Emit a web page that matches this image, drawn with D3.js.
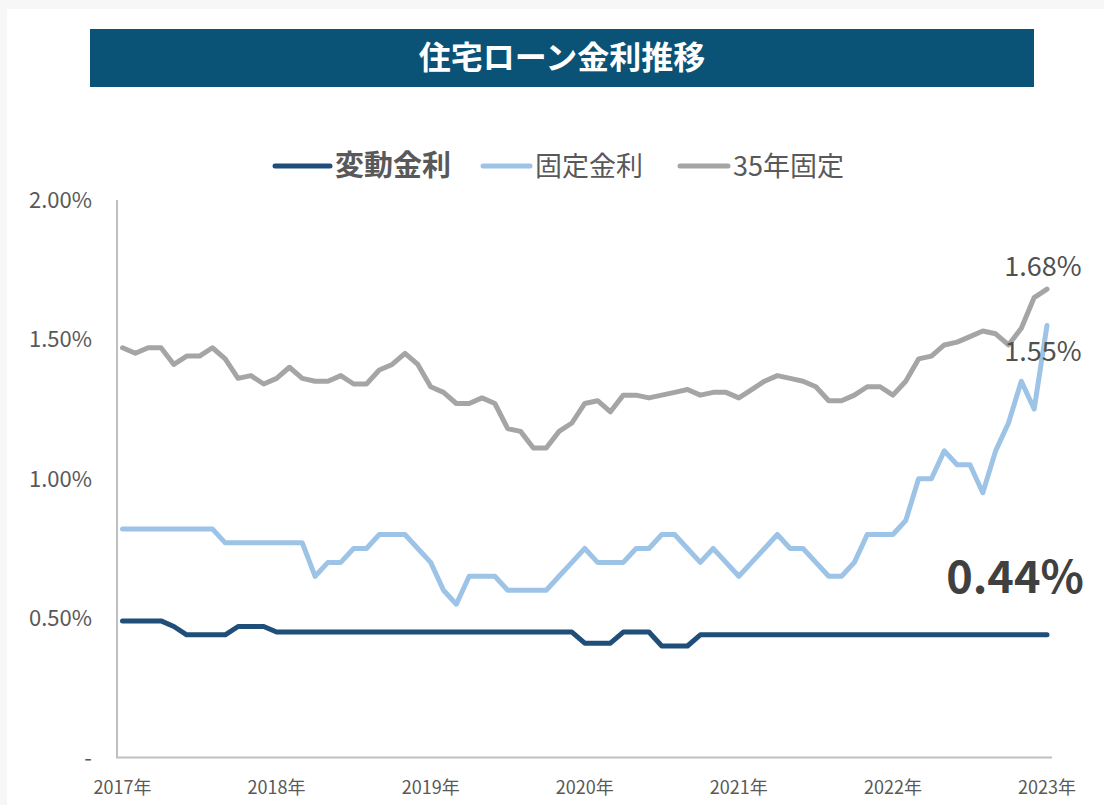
<!DOCTYPE html>
<html>
<head>
<meta charset="utf-8">
<script src="https://cdn.jsdelivr.net/npm/d3@7"></script>
<style>
  body { margin: 0; background: #f7f7f7; }
  text { font-family: "Noto Sans CJK JP", "Noto Sans", sans-serif; }
  .line { fill: none; stroke-width: 5; stroke-linejoin: round; stroke-linecap: round; }
</style>
</head>
<body>
<script>
"use strict";

var width = 1104;
var height = 805;

// 2017年1月 ～ 2023年1月（月次）
var yearLabels = ["2017年", "2018年", "2019年", "2020年", "2021年", "2022年", "2023年"];
var yTicks = [0, 0.5, 1.0, 1.5, 2.0];

var hendou = [
  0.49, 0.49, 0.49, 0.49, 0.47, 0.44, 0.44, 0.44, 0.44, 0.47, 0.47, 0.47,
  0.45, 0.45, 0.45, 0.45, 0.45, 0.45, 0.45, 0.45, 0.45, 0.45, 0.45, 0.45,
  0.45, 0.45, 0.45, 0.45, 0.45, 0.45, 0.45, 0.45, 0.45, 0.45, 0.45, 0.45,
  0.41, 0.41, 0.41, 0.45, 0.45, 0.45, 0.40, 0.40, 0.40, 0.44, 0.44, 0.44,
  0.44, 0.44, 0.44, 0.44, 0.44, 0.44, 0.44, 0.44, 0.44, 0.44, 0.44, 0.44,
  0.44, 0.44, 0.44, 0.44, 0.44, 0.44, 0.44, 0.44, 0.44, 0.44, 0.44, 0.44,
  0.44
];

var kotei = [
  0.82, 0.82, 0.82, 0.82, 0.82, 0.82, 0.82, 0.82, 0.77, 0.77, 0.77, 0.77,
  0.77, 0.77, 0.77, 0.65, 0.70, 0.70, 0.75, 0.75, 0.80, 0.80, 0.80, 0.75,
  0.70, 0.60, 0.55, 0.65, 0.65, 0.65, 0.60, 0.60, 0.60, 0.60, 0.65, 0.70,
  0.75, 0.70, 0.70, 0.70, 0.75, 0.75, 0.80, 0.80, 0.75, 0.70, 0.75, 0.70,
  0.65, 0.70, 0.75, 0.80, 0.75, 0.75, 0.70, 0.65, 0.65, 0.70, 0.80, 0.80,
  0.80, 0.85, 1.00, 1.00, 1.10, 1.05, 1.05, 0.95, 1.10, 1.20, 1.35, 1.25,
  1.55
];

var kotei35 = [
  1.47, 1.45, 1.47, 1.47, 1.41, 1.44, 1.44, 1.47, 1.43, 1.36, 1.37, 1.34,
  1.36, 1.40, 1.36, 1.35, 1.35, 1.37, 1.34, 1.34, 1.39, 1.41, 1.45, 1.41,
  1.33, 1.31, 1.27, 1.27, 1.29, 1.27, 1.18, 1.17, 1.11, 1.11, 1.17, 1.20,
  1.27, 1.28, 1.24, 1.30, 1.30, 1.29, 1.30, 1.31, 1.32, 1.30, 1.31, 1.31,
  1.29, 1.32, 1.35, 1.37, 1.36, 1.35, 1.33, 1.28, 1.28, 1.30, 1.33, 1.33,
  1.30, 1.35, 1.43, 1.44, 1.48, 1.49, 1.51, 1.53, 1.52, 1.48, 1.54, 1.65,
  1.68
];

var seriesNames = ["変動金利", "固定金利", "35年固定"];
var seriesColors = ["#1f4e79", "#9dc3e6", "#a5a5a5"];

var svg = d3.select("body")
  .append("svg")
  .attr("width", width)
  .attr("height", height);

// 白いパネル
svg.append("rect")
  .attr("x", 7)
  .attr("y", 9)
  .attr("width", width - 7)
  .attr("height", height - 9)
  .attr("fill", "#ffffff");

// タイトル帯
svg.append("rect")
  .attr("x", 90)
  .attr("y", 29)
  .attr("width", 944)
  .attr("height", 58)
  .attr("fill", "#0a5276");

svg.append("text")
  .attr("x", 562)
  .attr("y", 69)
  .attr("text-anchor", "middle")
  .attr("fill", "#ffffff")
  .attr("font-size", 32)
  .attr("font-weight", "bold")
  .text("住宅ローン金利推移");

var x = d3.scaleLinear().domain([0, 72]).range([122.5, 1047]);
var y = d3.scaleLinear().domain([0, 2]).range([757.5, 200]);

// 軸線
svg.append("line")
  .attr("x1", 117).attr("y1", y(2))
  .attr("x2", 117).attr("y2", y(0))
  .attr("stroke", "#bfbfbf").attr("stroke-width", 2);

svg.append("line")
  .attr("x1", 116).attr("y1", y(0))
  .attr("x2", 1052).attr("y2", y(0))
  .attr("stroke", "#bfbfbf").attr("stroke-width", 2);

// Y軸ラベル
svg.selectAll(".ytick")
  .data(yTicks)
  .enter()
  .append("text")
  .attr("class", "ytick")
  .attr("x", 92)
  .attr("y", function(d) { return y(d) + 8; })
  .attr("text-anchor", "end")
  .attr("fill", "#595959")
  .attr("font-size", 22)
  .text(function(d) { return d === 0 ? "-" : d.toFixed(2) + "%"; });

// X軸ラベル
svg.selectAll(".xtick")
  .data(yearLabels)
  .enter()
  .append("text")
  .attr("class", "xtick")
  .attr("x", function(d, i) { return x(i * 12); })
  .attr("y", 794)
  .attr("text-anchor", "middle")
  .attr("fill", "#595959")
  .attr("font-size", 18)
  .text(function(d) { return d; });

var line = d3.line()
  .x(function(d, i) { return x(i); })
  .y(function(d) { return y(d); });

var allSeries = [hendou, kotei, kotei35];
for (var s = 2; s >= 0; s--) {
  svg.append("path")
    .datum(allSeries[s])
    .attr("class", "line")
    .attr("stroke", seriesColors[s])
    .attr("d", line);
}

// 最新値ラベル
var last = 72;
svg.append("text")
  .attr("x", x(last) - 4)
  .attr("y", y(kotei35[last]) - 13)
  .attr("text-anchor", "middle")
  .attr("fill", "#505050")
  .attr("font-size", 27)
  .text(kotei35[last].toFixed(2) + "%");

svg.append("text")
  .attr("x", x(last) - 4)
  .attr("y", y(kotei[last]) + 36)
  .attr("text-anchor", "middle")
  .attr("fill", "#505050")
  .attr("font-size", 27)
  .text(kotei[last].toFixed(2) + "%");

svg.append("text")
  .attr("x", x(last) - 32)
  .attr("y", y(hendou[last]) - 42)
  .attr("text-anchor", "middle")
  .attr("fill", "#404040")
  .attr("font-size", 45)
  .attr("font-weight", "bold")
  .text(hendou[last].toFixed(2) + "%");

// 凡例
var legendX = [275, 483, 680];
var legendW = [55, 47, 48];
var legendSize = [29, 27, 27];
for (var k = 0; k < 3; k++) {
  svg.append("line")
    .attr("x1", legendX[k]).attr("y1", 166)
    .attr("x2", legendX[k] + legendW[k]).attr("y2", 166)
    .attr("stroke", seriesColors[k])
    .attr("stroke-width", 5)
    .attr("stroke-linecap", "round");

  svg.append("text")
    .attr("x", legendX[k] + legendW[k] + 5)
    .attr("y", 176)
    .attr("fill", "#595959")
    .attr("font-size", legendSize[k])
    .attr("font-weight", k === 0 ? "bold" : "normal")
    .text(seriesNames[k]);
}
</script>
</body>
</html>
